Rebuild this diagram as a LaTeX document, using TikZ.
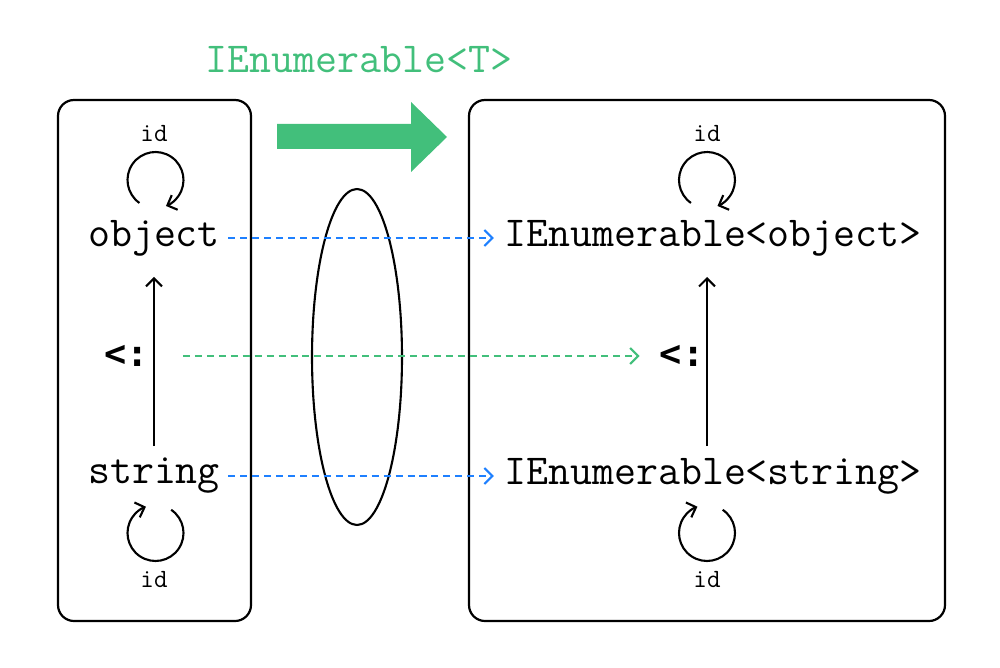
\documentclass[tikz,border=0pt]{standalone}
\usepackage{fontspec}
\newfontfamily\symfont{DejaVu Sans Mono}
\usetikzlibrary{arrows.meta,calc}
\definecolor{cgreen}{RGB}{66,191,123}
\definecolor{cblue}{RGB}{30,128,255}
\begin{document}
\begin{tikzpicture}[x=0.02cm,y=0.02cm,
  type/.style={font=\fontsize{24.3}{27}\selectfont\ttfamily, inner sep=0pt},
  idlabel/.style={font=\fontsize{15}{17}\selectfont\ttfamily, inner sep=0pt},
  subt/.style={font=\fontsize{21}{23}\selectfont\symfont\bfseries, inner sep=0pt},
  frame/.style={draw, line width=1.25pt, rounded corners=0.32cm},
  conn/.style={line width=1.2pt},
  tip/.style={-{Straight Barb[length=4.5pt,width=9pt,line width=1.2pt]}},
  bluedash/.style={conn, cblue, dash pattern=on 4pt off 2.8pt, tip},
  greendash/.style={conn, cgreen, dash pattern=on 4pt off 2.8pt, tip},
  loopdraw/.style={conn, tip}]
\useasboundingbox (0,0) rectangle (1000,667);
% frames
\draw[frame] (58,46) rectangle (251,567);
\draw[frame] (469,46) rectangle (945,567);
% functor arrow
\fill[cgreen] (277,543) -- (411,543) -- (411,565) -- (447,530) -- (411,495) -- (411,518) -- (277,518) -- cycle;
\node[type, text=cgreen] (lbl) at (359,607) {IEnumerable<T>};
% ellipse
\draw[conn] (357,310) ellipse [x radius=0.9cm, y radius=3.36cm];
% nodes
\node[type] (obj) at (154,429) {object};
\node[type] (str) at (154,191) {string};
\node[type] (IEo) at (713,429) {IEnumerable<object>};
\node[type] (IEs) at (713,191) {IEnumerable<string>};
\node[subt] (lsub) at (127,311) {<:};
\node[subt] (rsub) at (682,311) {<:};
% id labels
\node[idlabel] (idlt) at (154,533) {id};
\node[idlabel] (idlb) at (154,87) {id};
\node[idlabel] (idrt) at (707,533) {id};
\node[idlabel] (idrb) at (707,87) {id};
% loops
\draw[loopdraw] ($(obj)+(1.5,58)+(235:28)$) arc[start angle=235, end angle=-68, radius=0.56cm];
\draw[loopdraw] ($(IEo)+(-6,58)+(235:28)$) arc[start angle=235, end angle=-68, radius=0.56cm];
\draw[loopdraw] ($(str)+(1.5,-57)+(56:28)$) arc[start angle=56, end angle=-250, radius=0.56cm];
\draw[loopdraw] ($(IEs)+(-6,-57)+(56:28)$) arc[start angle=56, end angle=-250, radius=0.56cm];
% subtyping arrows
\draw[conn, tip, shorten <=0.6cm, shorten >=0.78cm] (str.center) -- (obj.center);
\draw[conn, tip, shorten <=0.6cm, shorten >=0.78cm] ([xshift=-0.12cm]IEs.center) -- ([xshift=-0.12cm]IEo.center);
% mapping arrows
\draw[bluedash, shorten <=0.16cm, shorten >=0.2cm] (obj.east) -- (IEo.west);
\draw[bluedash, shorten <=0.16cm, shorten >=0.2cm] (str.east) -- (IEs.west);
\draw[greendash, shorten <=1.12cm, shorten >=0.85cm] (lsub.center) -- (rsub.center);
\end{tikzpicture}
\end{document}
